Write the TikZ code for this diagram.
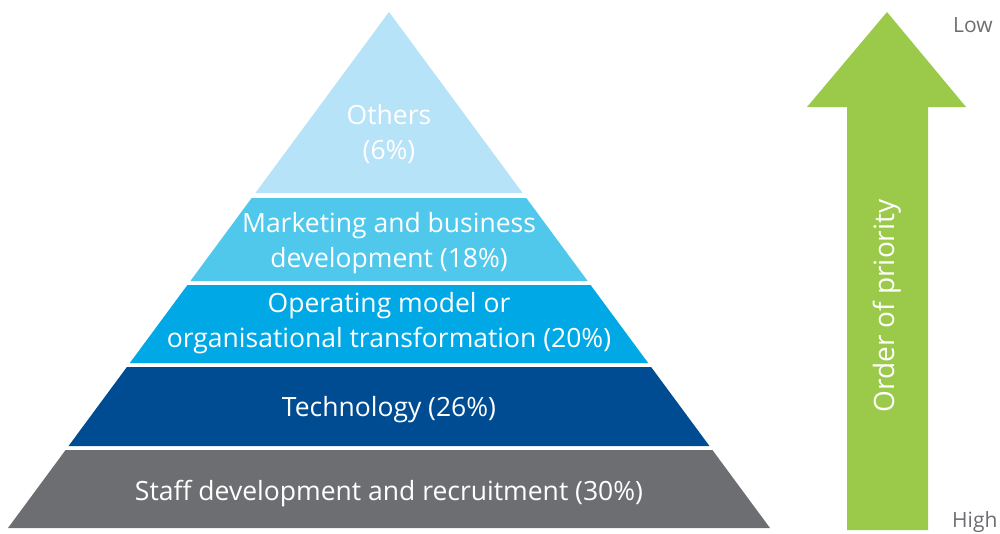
\documentclass[tikz,border=0pt]{standalone}
\usepackage{fontspec}
\setmainfont{Open Sans}
\definecolor{lay1}{HTML}{B7E3F8}
\definecolor{lay2}{HTML}{50C8EC}
\definecolor{lay3}{HTML}{00A9E6}
\definecolor{lay4}{HTML}{004C93}
\definecolor{lay5}{HTML}{6D6E71}
\definecolor{arrowgreen}{HTML}{9BCA4B}
\definecolor{labelgray}{HTML}{6D6E71}
\begin{document}
\begin{tikzpicture}[x=1pt,y=-1pt,
  laytext/.style={text=white,font=\fontsize{26.5}{35}\selectfont,align=center,inner sep=0pt},
  endtext/.style={text=labelgray,font=\fontsize{21}{22}\selectfont,anchor=west,inner sep=0pt}]
\useasboundingbox (0,0) rectangle (1000,533);
% pyramid: apex (389,12), base y=528 from 8 to 770; half-width slope 381/516
\def\sl{0.73837}
\fill[lay1] (389,12) -- ({389-\sl*181},193) -- ({389+\sl*181},193) -- cycle;
\fill[lay2] ({389-\sl*186},198) -- ({389+\sl*186},198) -- ({389+\sl*269},281) -- ({389-\sl*269},281) -- cycle;
\fill[lay3] ({389-\sl*273},285) -- ({389+\sl*273},285) -- ({389+\sl*351},363) -- ({389-\sl*351},363) -- cycle;
\fill[lay4] ({389-\sl*355},367) -- ({389+\sl*355},367) -- ({389+\sl*434},446) -- ({389-\sl*434},446) -- cycle;
\fill[lay5] ({389-\sl*438},450) -- ({389+\sl*438},450) -- ({389+\sl*516},528) -- ({389-\sl*516},528) -- cycle;
\node[laytext] (t1) at (389,134) {Others\\(6\%)};
\node[laytext] (t2) at (389,243) {Marketing and business\\development (18\%)};
\node[laytext] (t3) at (389,323) {Operating model or\\organisational transformation (20\%)};
\node[laytext] (t4) at (389,410) {Technology (26\%)};
\node[laytext] (t5) at (389,494) {Staff development and recruitment (30\%)};
% arrow
\fill[arrowgreen] (887,12) -- (966,107) -- (928,107) -- (928,530) -- (847,530) -- (847,107) -- (807,107) -- cycle;
\node[laytext,rotate=90,font=\fontsize{28}{30}\selectfont] (op) at (887,306) {Order of priority};
\node[endtext] (low) at (953,25) {Low};
\node[endtext] (high) at (952,522) {High};
\end{tikzpicture}
\end{document}
